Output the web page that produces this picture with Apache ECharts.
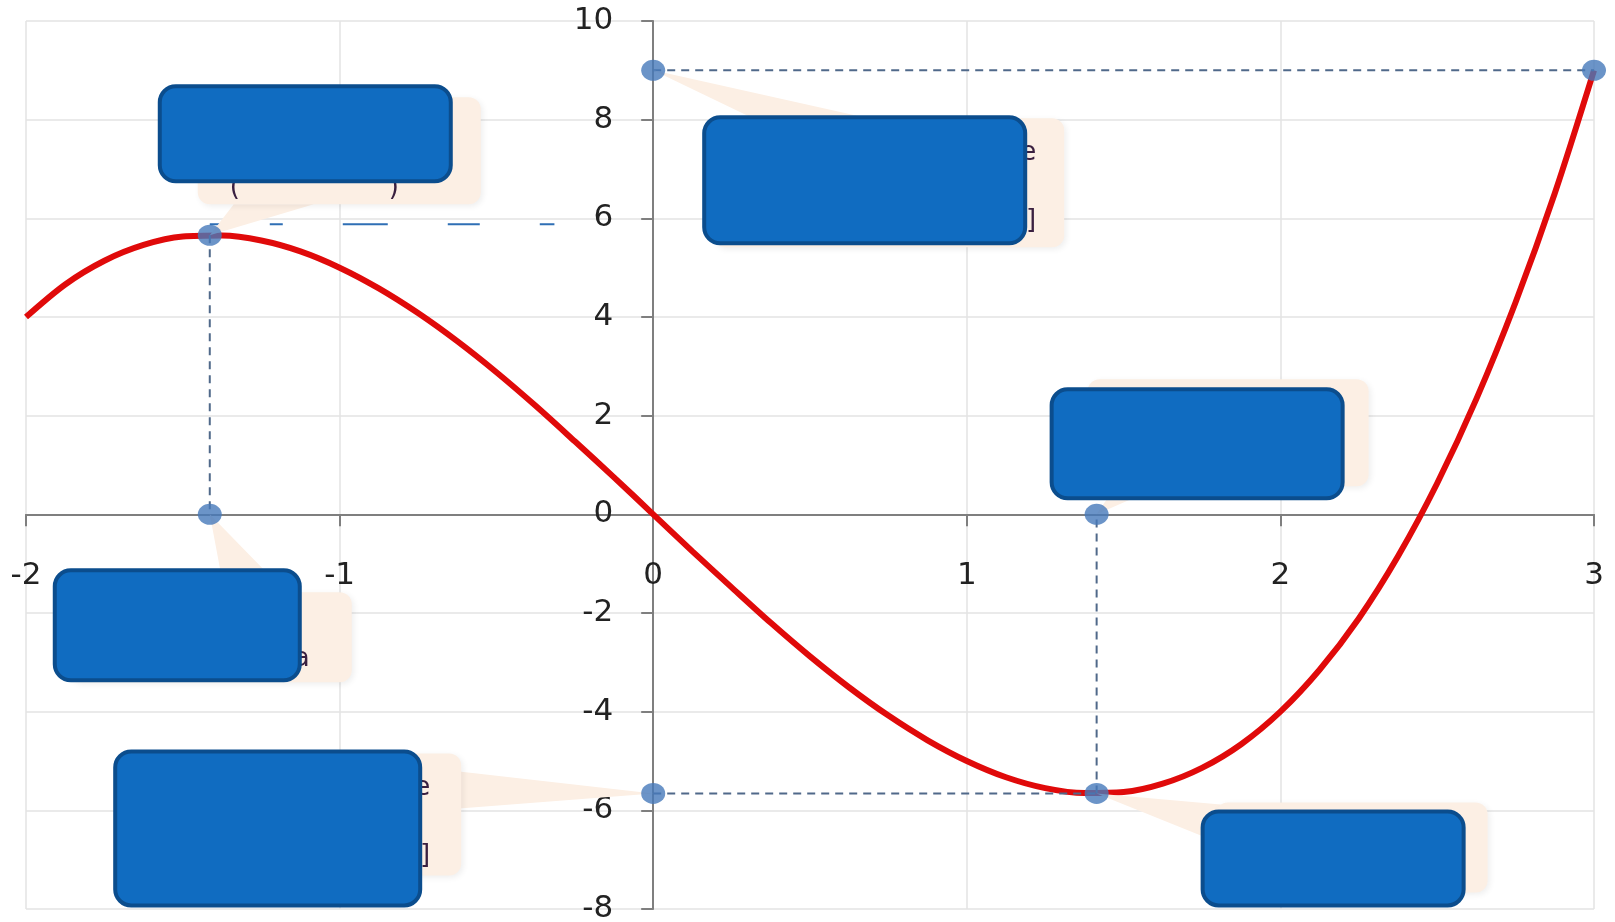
<!DOCTYPE html>
<html>
<head>
<meta charset="utf-8">
<script src="https://cdn.jsdelivr.net/npm/echarts@6/dist/echarts.min.js"></script>
<style>
  html, body { margin: 0; padding: 0; background: #fff; }
  #chart { width: 1615px; height: 922px; }
</style>
</head>
<body>
<div id="chart"></div>
<script>
// curve
const curveX = [-2, -1.875, -1.75, -1.625, -1.5, -1.375, -1.25, -1.125, -1, -0.875, -0.75, -0.625, -0.5, -0.375, -0.25, -0.125,
  0, 0.125, 0.25, 0.375, 0.5, 0.625, 0.75, 0.875, 1, 1.125, 1.25, 1.375, 1.5, 1.625, 1.75, 1.875,
  2, 2.125, 2.25, 2.375, 2.5, 2.625, 2.75, 2.875, 3];
const curveY = [4, 4.66, 5.14, 5.46, 5.63, 5.65, 5.55, 5.33, 5, 4.58, 4.08, 3.51, 2.88, 2.2, 1.48, 0.75,
  0, -0.75, -1.48, -2.2, -2.88, -3.51, -4.08, -4.58, -5, -5.33, -5.55, -5.65, -5.63, -5.46, -5.14, -4.66,
  -4, -3.15, -2.11, -0.85, 0.63, 2.34, 4.3, 6.51, 9];

// marked points (blue dots)
const markX = [-1.414, -1.414, 0, 3, 0, 1.414, 1.414];
const markY = [5.657, 0, 9, 9, -5.657, -5.657, 0];

// dashed guides, as pairs of marked point indices
const guidePairs = [[0, 1], [2, 3], [4, 5], [5, 6]];
// the odd long-dash line next to the maximum
const topGuideX = [-1.414, -0.315];
const topGuideY = [5.88, 5.88];

// axis ticks
const xTicks = [-2, -1, 0, 1, 2, 3];
const yTicks = [-8, -6, -4, -2, 0, 2, 4, 6, 8, 10];

// callouts: anchor point index and the bits of text that show past the cover
const calloutAnchor = [0, 2, 6, 1, 4, 5];
const calloutText = ['(                  )', 'e\n\n]', '', 'a', 'e\n\n]', ''];

// callout layout in pixels relative to the anchor point
const calloutLayout = [
  { box: [-12, -138, 283, 107], cover: [-50, -149, 291, 95], tip: [[24, -31], [104, -31]], text: [20, -64, 'left'] },
  { box: [60, 48, 351, 129], cover: [51, 47, 321, 126], tip: [[108, 52], [233, 52]], text: [383, 66, 'right'] },
  { box: [-9, -135, 281, 107], cover: [-45, -125, 291, 109], tip: [[19, -28], [64, -28]], text: [0, 0, 'left'] },
  { box: [-141, 78, 283, 90], cover: [-155, 56, 245, 110], tip: [[15, 80], [78, 80]], text: [100, 128, 'right'] },
  { box: [-532, -40, 340, 122], cover: [-538, -42, 305, 154], tip: [[-194, -22], [-194, 15]], text: [-223, -22, 'right'] },
  { box: [119, 9, 272, 90], cover: [106, 18, 261, 94], tip: [[124, 11], [124, 50]], text: [0, 0, 'left'] }
];

const chart = echarts.init(document.getElementById('chart'));

const guideSeries = guidePairs.map(p => ({
  type: 'line',
  data: [[markX[p[0]], markY[p[0]]], [markX[p[1]], markY[p[1]]]],
  symbol: 'none',
  lineStyle: { color: '#50698a', width: 2, type: [8, 6] },
  z: 3,
  silent: true
}));

const axisLabelStyle = {
  fontFamily: 'DejaVu Sans',
  fontSize: 31,
  color: '#222'
};

const option = {
  animation: false,
  grid: { left: 26, right: 21, top: 21, bottom: 13, containLabel: false, outerBoundsMode: 'none' },
  xAxis: {
    type: 'value',
    position: 'bottom',
    min: -2,
    max: 3,
    interval: 1,
    axisLine: { onZero: false, lineStyle: { color: '#7f7f7f', width: 2 } },
    axisTick: { show: true, length: 12, lineStyle: { color: '#7f7f7f', width: 2 } },
    axisLabel: {
      ...axisLabelStyle,
      margin: 46,
      showMinLabel: true,
      showMaxLabel: true,
      formatter: v => xTicks.includes(v) ? String(v) : ''
    },
    splitLine: { show: true, lineStyle: { color: '#e3e3e3', width: 1.5 } }
  },
  yAxis: {
    type: 'value',
    position: 'left',
    min: -8,
    max: 10,
    interval: 2,
    axisLine: { onZero: false, lineStyle: { color: '#7f7f7f', width: 2 } },
    axisTick: { show: true, length: 12, lineStyle: { color: '#7f7f7f', width: 2 } },
    axisLabel: {
      ...axisLabelStyle,
      margin: 40,
      formatter: v => yTicks.includes(v) ? String(v) : ''
    },
    splitLine: { show: true, lineStyle: { color: '#e3e3e3', width: 1.5 } }
  },
  series: [
    {
      type: 'line',
      data: curveX.map((x, i) => [x, curveY[i]]),
      smooth: 0.3,
      showSymbol: false,
      lineStyle: { color: '#e00a0a', width: 6 },
      z: 2,
      silent: true
    },
    ...guideSeries,
    {
      type: 'line',
      data: topGuideX.map((x, i) => [x, topGuideY[i]]),
      symbol: 'none',
      lineStyle: { color: '#2f6fb5', width: 2, type: [15, 45, 13, 60, 45, 60, 32, 60, 15, 100] },
      z: 3,
      silent: true
    },
    {
      type: 'scatter',
      data: markX.map((x, i) => [x, markY[i]]),
      symbol: 'circle',
      symbolSize: [24, 21],
      itemStyle: { color: '#4679ba' },
      z: 10,
      silent: true
    }
  ]
};

chart.setOption(option);

// move both axes (line, ticks and labels) onto the zero of the other axis
const origin = chart.convertToPixel({ gridIndex: 0 }, [0, 0]);
const corner = chart.convertToPixel({ gridIndex: 0 }, [xTicks[0], yTicks[0]]);
chart.setOption({
  xAxis: { offset: -(corner[1] - origin[1]) },
  yAxis: { offset: -(origin[0] - corner[0]) }
});

// callouts drawn at the pixel spot of their anchor point
const elements = [];
calloutAnchor.forEach((idx, i) => {
  const [ax, ay] = chart.convertToPixel({ gridIndex: 0 }, [markX[idx], markY[idx]]);
  const L = calloutLayout[i];
  const fill = '#fcefe4';
  elements.push({
    type: 'polygon',
    z: 5,
    shape: { points: [[ax, ay], [ax + L.tip[0][0], ay + L.tip[0][1]], [ax + L.tip[1][0], ay + L.tip[1][1]]] },
    style: { fill: fill }
  });
  elements.push({
    type: 'rect',
    z: 5,
    shape: { x: ax + L.box[0], y: ay + L.box[1], width: L.box[2], height: L.box[3], r: 12 },
    style: { fill: fill, shadowBlur: 6, shadowColor: 'rgba(0,0,0,0.07)', shadowOffsetX: 2, shadowOffsetY: 2 }
  });
  if (calloutText[i]) {
    elements.push({
      type: 'text',
      z: 6,
      x: ax + L.text[0],
      y: ay + L.text[1],
      style: {
        text: calloutText[i],
        fill: '#3a2040',
        font: '26px "DejaVu Sans"',
        align: L.text[2],
        lineHeight: 34
      }
    });
  }
  elements.push({
    type: 'rect',
    z: 20,
    shape: { x: ax + L.cover[0], y: ay + L.cover[1], width: L.cover[2], height: L.cover[3], r: 16 },
    style: { fill: '#106cc1', stroke: '#0b4d8d', lineWidth: 4 }
  });
});

chart.setOption({ graphic: { elements: elements } });
</script>
</body>
</html>
